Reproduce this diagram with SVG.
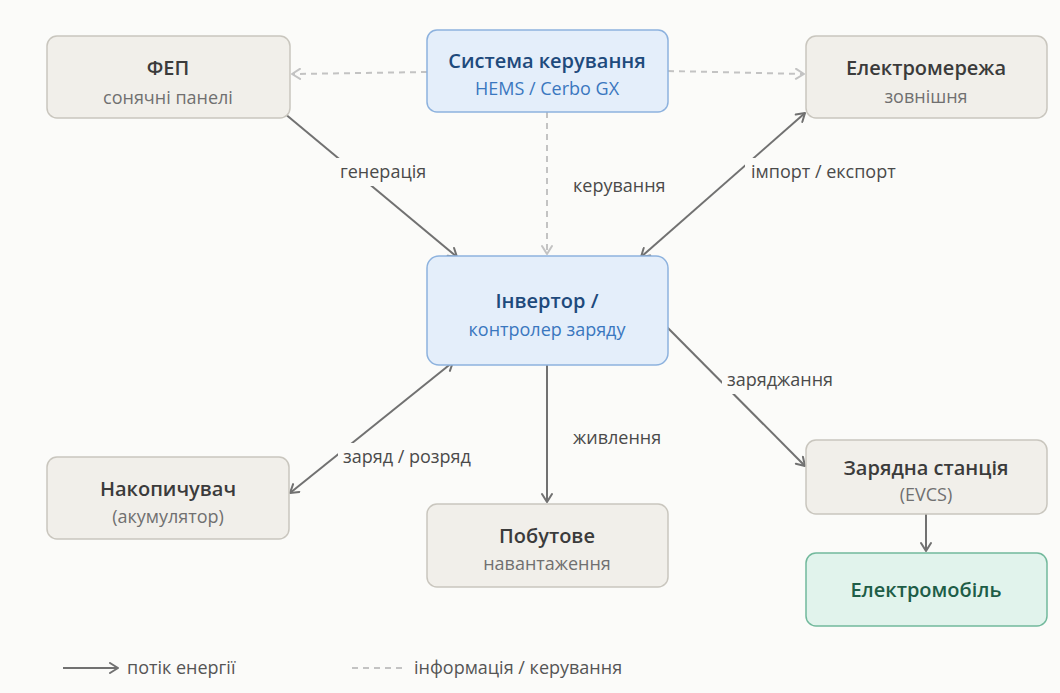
<svg xmlns="http://www.w3.org/2000/svg" width="1060" height="693" viewBox="0 0 1060 693">
  <defs>
    <marker id="arrow" viewBox="0 0 12 12" refX="10" refY="6" markerWidth="12" markerHeight="12" markerUnits="userSpaceOnUse" orient="auto-start-reverse">
      <polyline points="2,1 10,6 2,11" fill="none" stroke="#717171" stroke-width="2" stroke-linecap="round" stroke-linejoin="round"/>
    </marker>
    <marker id="arrow-dash" viewBox="0 0 12 12" refX="10" refY="6" markerWidth="12" markerHeight="12" markerUnits="userSpaceOnUse" orient="auto-start-reverse">
      <polyline points="2,1 10,6 2,11" fill="none" stroke="#c3c3c3" stroke-width="2" stroke-linecap="round" stroke-linejoin="round"/>
    </marker>
    <style>
      text { font-family: "Open Sans", "Noto Sans", "Liberation Sans", sans-serif; text-anchor: middle; }
      .box { fill: #f1efea; stroke: #c9c6be; stroke-width: 1.5; }
      .box-blue { fill: #e4eefa; stroke: #8db2de; stroke-width: 1.5; }
      .box-green { fill: #e1f3ec; stroke: #72b99c; stroke-width: 1.5; }
      .title { font-size: 20px; font-weight: 600; fill: #3b3b3b; }
      .sub { font-size: 18px; fill: #707070; }
      .title-blue { font-size: 20px; font-weight: 600; fill: #1e4a7c; }
      .sub-blue { font-size: 18px; fill: #3a77bf; }
      .title-green { font-size: 20px; font-weight: 600; fill: #1e5d47; }
      .flow { fill: none; stroke: #717171; stroke-width: 2; }
      .info { fill: none; stroke: #c3c3c3; stroke-width: 2; stroke-dasharray: 6 5; }
      .lbl { font-size: 18px; fill: #4a4a4a; text-anchor: start; }
      .lbl-bg { fill: #fbfbf9; }
      .legend { font-size: 18px; fill: #555555; text-anchor: start; }
    </style>
  </defs>

  <rect x="0" y="0" width="1060" height="693" fill="#fbfbf9"/>

  <!-- connectors -->
  <g id="connectors">
    <!-- control links (dashed) -->
    <line class="info" x1="427" y1="72" x2="292" y2="74" marker-end="url(#arrow-dash)"/>
    <line class="info" x1="668" y1="71" x2="804" y2="74" marker-end="url(#arrow-dash)"/>
    <line class="info" x1="547" y1="112" x2="547" y2="254" marker-end="url(#arrow-dash)"/>

    <!-- energy flows -->
    <line class="flow" x1="284" y1="113" x2="457" y2="257" marker-end="url(#arrow)"/>
    <line class="flow" x1="641" y1="257" x2="805" y2="113" marker-start="url(#arrow)" marker-end="url(#arrow)"/>
    <line class="flow" x1="290" y1="493" x2="453" y2="362" marker-start="url(#arrow)" marker-end="url(#arrow)"/>
    <line class="flow" x1="547" y1="365" x2="547" y2="502" marker-end="url(#arrow)"/>
    <line class="flow" x1="660" y1="320" x2="805" y2="466" marker-end="url(#arrow)"/>
    <line class="flow" x1="926" y1="514" x2="926" y2="551" marker-end="url(#arrow)"/>

    <!-- labels -->
    <rect class="lbl-bg" x="336" y="158" width="100" height="28"/>
    <text class="lbl" x="340" y="178">генерація</text>
    <rect class="lbl-bg" x="745" y="158" width="158" height="28"/>
    <text class="lbl" x="751" y="178">імпорт / експорт</text>
    <text class="lbl" x="573" y="192">керування</text>
    <rect class="lbl-bg" x="722" y="366" width="120" height="28"/>
    <text class="lbl" x="727" y="386">заряджання</text>
    <text class="lbl" x="573" y="444">живлення</text>
    <rect class="lbl-bg" x="338" y="443" width="140" height="28"/>
    <text class="lbl" x="343" y="463">заряд / розряд</text>
  </g>

  <!-- nodes -->
  <g id="node-pv">
    <rect class="box" x="47" y="36" width="243" height="82" rx="10"/>
    <text class="title" x="168" y="75">ФЕП</text>
    <text class="sub" x="168" y="104">сонячні панелі</text>
  </g>

  <g id="node-control">
    <rect class="box-blue" x="427" y="30" width="241" height="82" rx="10"/>
    <text class="title-blue" x="547" y="68">Система керування</text>
    <text class="sub-blue" x="547" y="95">HEMS / Cerbo GX</text>
  </g>

  <g id="node-grid">
    <rect class="box" x="806" y="36" width="241" height="82" rx="10"/>
    <text class="title" x="926" y="75">Електромережа</text>
    <text class="sub" x="926" y="103">зовнішня</text>
  </g>

  <g id="node-inverter">
    <rect class="box-blue" x="427" y="256" width="241" height="109" rx="12"/>
    <text class="title-blue" x="547" y="308">Інвертор /</text>
    <text class="sub-blue" x="547" y="336">контролер заряду</text>
  </g>

  <g id="node-battery">
    <rect class="box" x="47" y="457" width="242" height="82" rx="10"/>
    <text class="title" x="168" y="496">Накопичувач</text>
    <text class="sub" x="168" y="523">(акумулятор)</text>
  </g>

  <g id="node-load">
    <rect class="box" x="427" y="504" width="241" height="83" rx="10"/>
    <text class="title" x="547" y="543">Побутове</text>
    <text class="sub" x="547" y="570">навантаження</text>
  </g>

  <g id="node-evcs">
    <rect class="box" x="806" y="440" width="241" height="74" rx="10"/>
    <text class="title" x="926" y="475">Зарядна станція</text>
    <text class="sub" x="926" y="501">(EVCS)</text>
  </g>

  <g id="node-ev">
    <rect class="box-green" x="806" y="553" width="241" height="73" rx="10"/>
    <text class="title-green" x="926" y="597">Електромобіль</text>
  </g>

  <!-- legend -->
  <g id="legend">
    <line class="flow" x1="63" y1="668" x2="118" y2="668" marker-end="url(#arrow)"/>
    <text class="legend" x="127" y="674">потік енергії</text>
    <line class="info" x1="352" y1="668" x2="404" y2="668"/>
    <text class="legend" x="414" y="674">інформація / керування</text>
  </g>
</svg>
